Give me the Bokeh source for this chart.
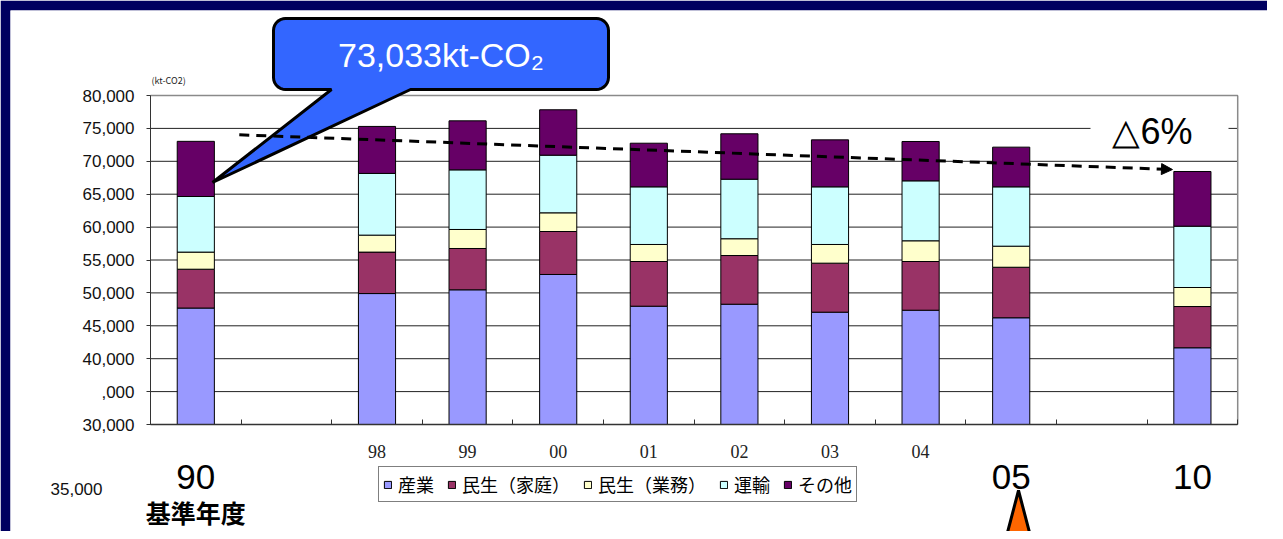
import numpy as np
from bokeh.plotting import figure
from bokeh.models import (Range1d, LinearAxis, FixedTicker, NumeralTickFormatter,
                          ColumnDataSource, Label, Arrow, NormalHead)
from bokeh.embed import file_html
from bokeh.resources import INLINE

# ---------------- data ----------------
categories = ["90", "", "98", "99", "00", "01", "02", "03", "04", "05", "", "10"]
years = ["90", "98", "99", "00", "01", "02", "03", "04", "05", "10"]
industry = [47700, 49900, 50470, 52800, 47980, 48280, 47070, 47370, 46220, 41660]
household = [5900, 6300, 6280, 6530, 6790, 7400, 7450, 7400, 7680, 6270]
business = [2600, 2580, 2890, 2840, 2590, 2550, 2840, 3150, 3200, 2890]
transport = [8450, 9380, 9060, 8760, 8760, 9050, 8760, 9110, 9020, 9320]
other = [8383, 7140, 7450, 6900, 6630, 6900, 7140, 5980, 6030, 8310]
series_names = ["産業", "民生（家庭）", "民生（業務）", "運輸", "その他"]
series_colors = ["#9999FF", "#993366", "#FFFFCC", "#CCFFFF", "#660066"]
y_ticks = [30000, 35000, 40000, 45000, 50000, 55000, 60000, 65000, 70000, 75000, 80000]
small_year_labels = ["98", "99", "00", "01", "02", "03", "04"]
big_year_labels = ["90", "05", "10"]
base_total_text = "73,033kt-CO₂"
reduction_text = "△6%"
trend_x = [0.98, 11.28]
trend_y = [74030, 68750]

# ---------------- geometry helpers (figure pixels -> data) ----------------
AXIS_PX, CAT_PX = 150.0, 90.6
Y_MIN, Y_MAX = y_ticks[0], y_ticks[-1]
YPX_MAX, YPX_MIN = 95.0, 424.0
PER_PX = (Y_MAX - Y_MIN) / (YPX_MIN - YPX_MAX)

FIG_W, FIG_H = 1267, 531
FR_L, FR_T = 10, 10


def X(px):
    return (px - AXIS_PX) / CAT_PX


def Y(py):
    return Y_MIN + (YPX_MIN - py) * PER_PX


n_cat = len(categories)
xpos = [categories.index(y) + 0.5 for y in years]
stack = np.cumsum(np.array([industry, household, business, transport, other], dtype=float), axis=0)

data = dict(x=xpos)
for i in range(len(series_names)):
    data[f"b{i}"] = [Y_MIN] * len(years) if i == 0 else list(stack[i - 1])
    data[f"t{i}"] = list(stack[i])
src = ColumnDataSource(data)

p = figure(width=FIG_W, height=FIG_H,
           x_range=Range1d(X(FR_L), X(FIG_W)), y_range=Range1d(Y(FIG_H), Y(FR_T)),
           x_axis_type=None, y_axis_type=None,
           toolbar_location=None, output_backend="svg",
           min_border_left=FR_L, min_border_right=0, min_border_top=FR_T, min_border_bottom=0,
           background_fill_color="white", border_fill_color="#000060",
           outline_line_color=None)

# grid lines (plot area only)
p.segment(x0=[0] * len(y_ticks), x1=[n_cat] * len(y_ticks), y0=y_ticks, y1=y_ticks,
          line_color="#222222", line_width=1)
# plot-area border (top + right)
p.segment(x0=[0, n_cat], x1=[n_cat, n_cat], y0=[Y_MAX, Y_MIN], y1=[Y_MAX, Y_MAX],
          line_color="#8a8a8a", line_width=1.5)

# stacked bars
for i, (name, col) in enumerate(zip(series_names, series_colors)):
    p.vbar(x="x", width=0.41, bottom=f"b{i}", top=f"t{i}", source=src,
           fill_color=col, line_color="black", line_width=1, legend_label=name)

# callout bubble
def bubble_path(x0, y0, x1, y1, r, base_l, base_r, tip):
    pts = []
    def arc(cx, cy, a0, a1):
        for a in np.linspace(np.radians(a0), np.radians(a1), 8):
            pts.append((cx + r * np.cos(a), cy + r * np.sin(a)))
    arc(x0 + r, y0 + r, 180, 270)
    arc(x1 - r, y0 + r, 270, 360)
    arc(x1 - r, y1 - r, 0, 90)
    pts.append((base_r, y1))
    pts.append(tip)
    pts.append((base_l, y1))
    arc(x0 + r, y1 - r, 90, 180)
    return [X(a) for a, b in pts], [Y(b) for a, b in pts]

bx, by = bubble_path(273, 18, 608, 89, 12, 331, 410, (212, 182))
p.patch(bx, by, fill_color="#3366FF", line_color="black", line_width=3)

# orange pointer at bottom
p.patch([X(1018), X(1039), X(997)], [Y(490), Y(570), Y(570)],
        fill_color="#FF6600", line_color="black", line_width=3)

# white box behind reduction text
p.quad(left=X(1090), right=X(1228), top=Y(118), bottom=Y(142),
       fill_color="white", line_color=None)

# ---------------- axes ----------------
yax = LinearAxis(ticker=FixedTicker(ticks=y_ticks), fixed_location=0, bounds=(Y_MIN, Y_MAX),
                 formatter=NumeralTickFormatter(format="0,0"))
yax.major_label_overrides = {35000: ",000"}
yax.major_tick_out = 4
yax.major_tick_in = 0
yax.minor_tick_out = 0
yax.minor_tick_in = 0
yax.major_label_standoff = 12
yax.major_label_text_font = "Liberation Sans"
yax.major_label_text_font_size = "17px"
yax.major_label_text_color = "#111111"
yax.axis_line_color = "#333333"
yax.major_tick_line_color = "#333333"
p.add_layout(yax, "left")

xtick_ax = LinearAxis(ticker=FixedTicker(ticks=list(range(n_cat + 1))), fixed_location=Y_MIN,
                      bounds=(0, n_cat))
xtick_ax.major_label_overrides = {i: "" for i in range(n_cat + 1)}
xtick_ax.major_tick_in = 5
xtick_ax.major_tick_out = 0
xtick_ax.minor_tick_in = 0
xtick_ax.minor_tick_out = 0
xtick_ax.axis_line_color = "#333333"
xtick_ax.axis_line_width = 1.5
xtick_ax.major_tick_line_color = "#333333"
p.add_layout(xtick_ax, "below")

small_pos = [categories.index(s) + 0.5 for s in small_year_labels]
xlab_ax = LinearAxis(ticker=FixedTicker(ticks=small_pos), fixed_location=Y_MIN)
xlab_ax.major_label_overrides = {pos: s for pos, s in zip(small_pos, small_year_labels)}
xlab_ax.major_tick_in = 0
xlab_ax.major_tick_out = 0
xlab_ax.minor_tick_in = 0
xlab_ax.minor_tick_out = 0
xlab_ax.axis_line_color = None
xlab_ax.major_label_standoff = 20
xlab_ax.major_label_text_font = "Liberation Serif"
xlab_ax.major_label_text_font_size = "18px"
xlab_ax.major_label_text_color = "#222222"
p.add_layout(xlab_ax, "below")

# ---------------- texts ----------------
p.add_layout(Label(x=X(151), y=Y(80), text="(kt-CO2)", text_font="Noto Sans CJK JP",
                   text_font_size="9px", text_baseline="middle", text_align="left",
                   text_color="#222222"))
p.add_layout(Label(x=X(440.5), y=Y(54), text=base_total_text, text_font="Liberation Sans",
                   text_font_size="34px", text_color="white", text_align="center",
                   text_baseline="middle"))
p.add_layout(Label(x=X(1152), y=Y(131), text=reduction_text, text_font="Liberation Sans",
                   text_font_size="36px", text_color="black", text_align="center",
                   text_baseline="middle"))
for s in big_year_labels:
    p.add_layout(Label(x=categories.index(s) + 0.5, y=Y(476), text=s, text_font="Liberation Sans",
                       text_font_size="35px", text_color="black", text_align="center",
                       text_baseline="middle"))
p.add_layout(Label(x=0.5, y=Y(511), text="基準年度", text_font="Noto Sans CJK JP",
                   text_font_size="25px", text_font_style="bold", text_color="black",
                   text_align="center", text_baseline="middle"))
p.add_layout(Label(x=X(102), y=Y(488), text="35,000", text_font="Liberation Sans",
                   text_font_size="17px", text_color="#111111", text_align="right",
                   text_baseline="middle"))

# trend arrow
p.add_layout(Arrow(end=NormalHead(size=11, fill_color="black", line_color="black", line_width=1),
                   x_start=trend_x[0], y_start=trend_y[0], x_end=trend_x[1], y_end=trend_y[1],
                   line_width=3, line_dash="10 7", line_color="black"))

# legend
leg = p.legend[0]
leg.location = (378 - FR_L, FIG_H - 502)
leg.orientation = "horizontal"
leg.label_text_font = "Noto Sans CJK JP"
leg.label_text_font_size = "18px"
leg.label_text_color = "black"
leg.glyph_width = 9
leg.glyph_height = 9
leg.label_standoff = 6
leg.spacing = 13
leg.padding = 4
leg.margin = 0
leg.border_line_color = "black"
leg.border_line_width = 1
leg.background_fill_color = "white"
leg.background_fill_alpha = 1.0

html = file_html(p, INLINE)
html = html.replace("<body>", '<body style="background-color:#000060;">', 1)
open("out.html", "w").write(html)
